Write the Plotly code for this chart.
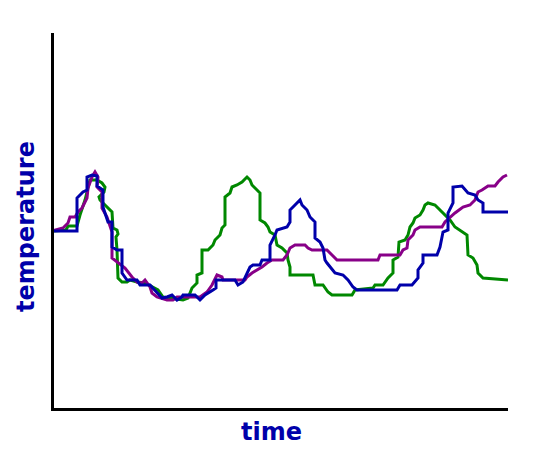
import plotly.graph_objects as go

# time / temperature in chart units (time 0..454, temperature 0..375)
blue_t = [0,23,23,29,33,33,38,43,43,49,49,54,58,58,63,68,68,73,83,86,96,108,113,118,123,128,129,141,146,151,159,162,162,181,184,189,196,199,206,208,216,216,221,223,233,236,236,241,246,248,253,256,261,261,266,269,271,273,281,289,294,299,303,343,346,358,364,364,369,369,383,386,389,394,394,399,399,408,414,421,424,429,429,454]
blue_T = [177,177,210,216,218,231,233,232,222,218,201,186,186,161,158,158,135,128,128,123,123,110,111,113,108,111,113,113,108,113,118,120,128,128,123,126,141,143,143,148,148,163,173,178,181,186,198,203,208,203,198,191,186,170,166,160,148,145,135,133,128,121,118,118,123,123,130,138,145,153,153,161,176,178,195,205,221,222,215,213,208,205,196,196]

green_t = [0,12,14,23,26,31,34,36,43,48,51,50,45,46,51,56,58,59,63,64,62,63,64,68,73,76,83,91,99,104,109,129,134,138,143,143,148,148,154,159,161,166,168,171,171,176,178,183,188,193,196,198,201,206,206,211,214,216,221,223,228,233,234,236,236,259,261,269,274,278,298,301,319,321,329,334,339,339,344,345,351,354,356,359,361,366,369,371,374,381,386,391,396,401,406,413,414,419,423,424,429,454]
green_T = [177,178,182,182,193,208,220,228,228,225,221,216,211,208,203,198,196,180,178,174,171,158,130,126,126,128,126,125,121,118,111,108,110,120,125,133,135,158,158,163,168,173,180,183,211,215,221,223,226,231,228,223,220,215,188,185,181,176,173,163,160,155,148,141,133,133,123,123,116,113,113,118,120,123,123,130,135,148,151,166,168,173,181,185,190,193,198,203,205,203,198,193,188,181,178,173,153,150,143,135,130,128]

purple_t = [0,1,9,14,16,21,24,28,33,34,38,41,44,43,48,48,53,58,58,64,71,78,83,88,91,96,98,103,113,119,123,146,153,158,163,168,169,191,193,198,203,208,213,218,229,233,236,241,251,254,258,273,278,283,324,326,346,349,353,354,359,361,366,388,391,396,401,409,416,421,424,428,434,441,444,449,453]
purple_T = [177,178,180,185,191,191,196,200,210,220,231,236,231,221,216,200,191,176,150,145,140,131,126,125,128,121,115,111,108,108,111,111,116,123,133,131,128,128,131,135,138,141,145,148,148,153,160,163,163,160,158,158,153,148,148,153,153,158,160,168,173,178,181,181,186,191,195,201,203,208,216,218,222,222,226,231,233]

BLUE = "#0000AA"
GREEN = "#008800"
PURPLE = "#880088"

fig = go.Figure()
fig.add_trace(go.Scatter(x=green_t, y=green_T, mode="lines",
                         line=dict(color=GREEN, width=3)))
fig.add_trace(go.Scatter(x=purple_t, y=purple_T, mode="lines",
                         line=dict(color=PURPLE, width=3)))
fig.add_trace(go.Scatter(x=blue_t, y=blue_T, mode="lines",
                         line=dict(color=BLUE, width=3)))

fig.update_layout(
    width=539, height=460,
    margin=dict(l=46, r=39, t=25, b=60),
    paper_bgcolor="white", plot_bgcolor="white",
    showlegend=False,
    xaxis=dict(range=[0, 454], showgrid=False, zeroline=False, showticklabels=False,
               ticks="", showline=True, linecolor="black", linewidth=3),
    yaxis=dict(range=[0, 375], showgrid=False, zeroline=False, showticklabels=False,
               ticks="", showline=True, linecolor="black", linewidth=3),
    annotations=[
        dict(text="<b>time</b>", xref="paper", yref="paper", x=0.478, y=-0.065,
             xanchor="center", yanchor="middle", showarrow=False,
             font=dict(family="DejaVu Sans", size=24, color=BLUE)),
        dict(text="<b>temperature</b>", xref="paper", yref="paper", x=-0.062, y=0.485,
             xanchor="center", yanchor="middle", showarrow=False, textangle=-90,
             font=dict(family="DejaVu Sans", size=24, color=BLUE)),
    ],
)

fig.write_html("out.html")
